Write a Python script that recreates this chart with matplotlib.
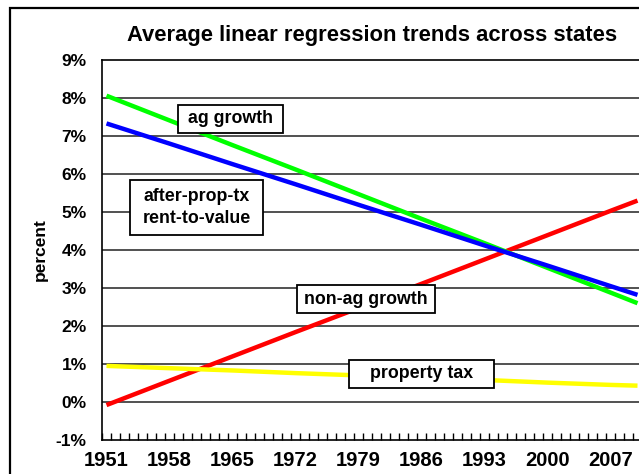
import matplotlib
matplotlib.use("Agg")
import matplotlib.pyplot as plt
from matplotlib.patches import Rectangle

plt.rcParams['font.family'] = ['Liberation Sans', 'DejaVu Sans']

# ---- data ----
years = [1951, 1958, 1965, 1972, 1979, 1986, 1993, 2000, 2007, 2010]
ag_growth = [8.06, 7.41, 6.76, 6.12, 5.47, 4.82, 4.18, 3.53, 2.88, 2.60]
rent_to_value = [7.33, 6.80, 6.26, 5.73, 5.19, 4.66, 4.12, 3.59, 3.05, 2.82]
non_ag_growth = [-0.08, 0.56, 1.20, 1.84, 2.47, 3.11, 3.75, 4.39, 5.03, 5.30]
property_tax = [0.95, 0.89, 0.83, 0.76, 0.70, 0.64, 0.58, 0.51, 0.45, 0.43]

xtick_years = [1951, 1958, 1965, 1972, 1979, 1986, 1993, 2000, 2007]
yticks = list(range(-1, 10))
title = "Average linear regression trends across states"
ylabel = "percent"

W, H = 639, 474
fig = plt.figure(figsize=(W / 100, H / 100), dpi=100)
fig.patch.set_facecolor('white')

# axes in pixel layout: left 102, right 642, top 60, bottom 440
ax = fig.add_axes([102 / W, (H - 440) / H, 540 / W, 380 / H])
ax.set_xlim(1950.5, 2010.5)
ax.set_ylim(-1, 9)

for v in range(0, 9):
    ax.axhline(v, color='#333333', lw=1.2, zorder=1)

ax.plot(years, non_ag_growth, color='#FF0000', lw=3.2, zorder=3, solid_capstyle='butt')
ax.plot(years, property_tax, color='#FFFF00', lw=3.2, zorder=3, solid_capstyle='butt')
ax.plot(years, ag_growth, color='#00FF00', lw=3.2, zorder=4, solid_capstyle='butt')
ax.plot(years, rent_to_value, color='#0000FF', lw=3.2, zorder=5, solid_capstyle='butt')

ax.set_yticks(yticks)
ax.set_yticklabels([f"{v}%" for v in yticks], fontsize=12.5, fontweight='bold')
ax.tick_params(axis='y', length=0, pad=11)

ax.set_xticks(xtick_years)
ax.set_xticklabels([str(y) for y in xtick_years], fontsize=14.5, fontweight='bold')
ax.set_xticks([y + 0.5 for y in range(1950, 2011)], minor=True)
ax.tick_params(axis='x', which='major', length=0, pad=8)
ax.tick_params(axis='x', which='minor', length=5, direction='in', width=1, color='black')

for s in ax.spines.values():
    s.set_color('black')
    s.set_linewidth(1.2)

fig.text(40 / W, 1 - 250 / H, ylabel, fontsize=12.5, fontweight='bold',
         rotation=90, ha='center', va='center')

fig.text(372 / W, 1 - 35 / H, title, fontsize=15.8, fontweight='bold',
         ha='center', va='center')

# label boxes: (center year, center value, width yrs, height %, text)
boxes = [
    (1964.78, 7.45, 11.67, 0.74, "ag growth"),
    (1961.0, 5.12, 14.78, 1.45, "after-prop-tx\nrent-to-value"),
    (1979.83, 2.71, 15.33, 0.74, "non-ag growth"),
    (1986.0, 0.737, 16.11, 0.74, "property tax"),
]
for cx, cy, bw, bh, txt in boxes:
    ax.add_patch(Rectangle((cx - bw / 2, cy - bh / 2), bw, bh, facecolor='white',
                           edgecolor='black', lw=1.3, zorder=6))
    ax.text(cx, cy, txt, ha='center', va='center', fontsize=12.8, fontweight='bold',
            zorder=7, linespacing=1.35)

# outer chart border (extends beyond the cropped image on right/bottom)
fig.patches.append(Rectangle((10 / W, -0.2), 1.5, 0.2 + (H - 8) / H,
                             transform=fig.transFigure, fill=False,
                             edgecolor='black', lw=1.6))

fig.savefig("out.png", dpi=100)
